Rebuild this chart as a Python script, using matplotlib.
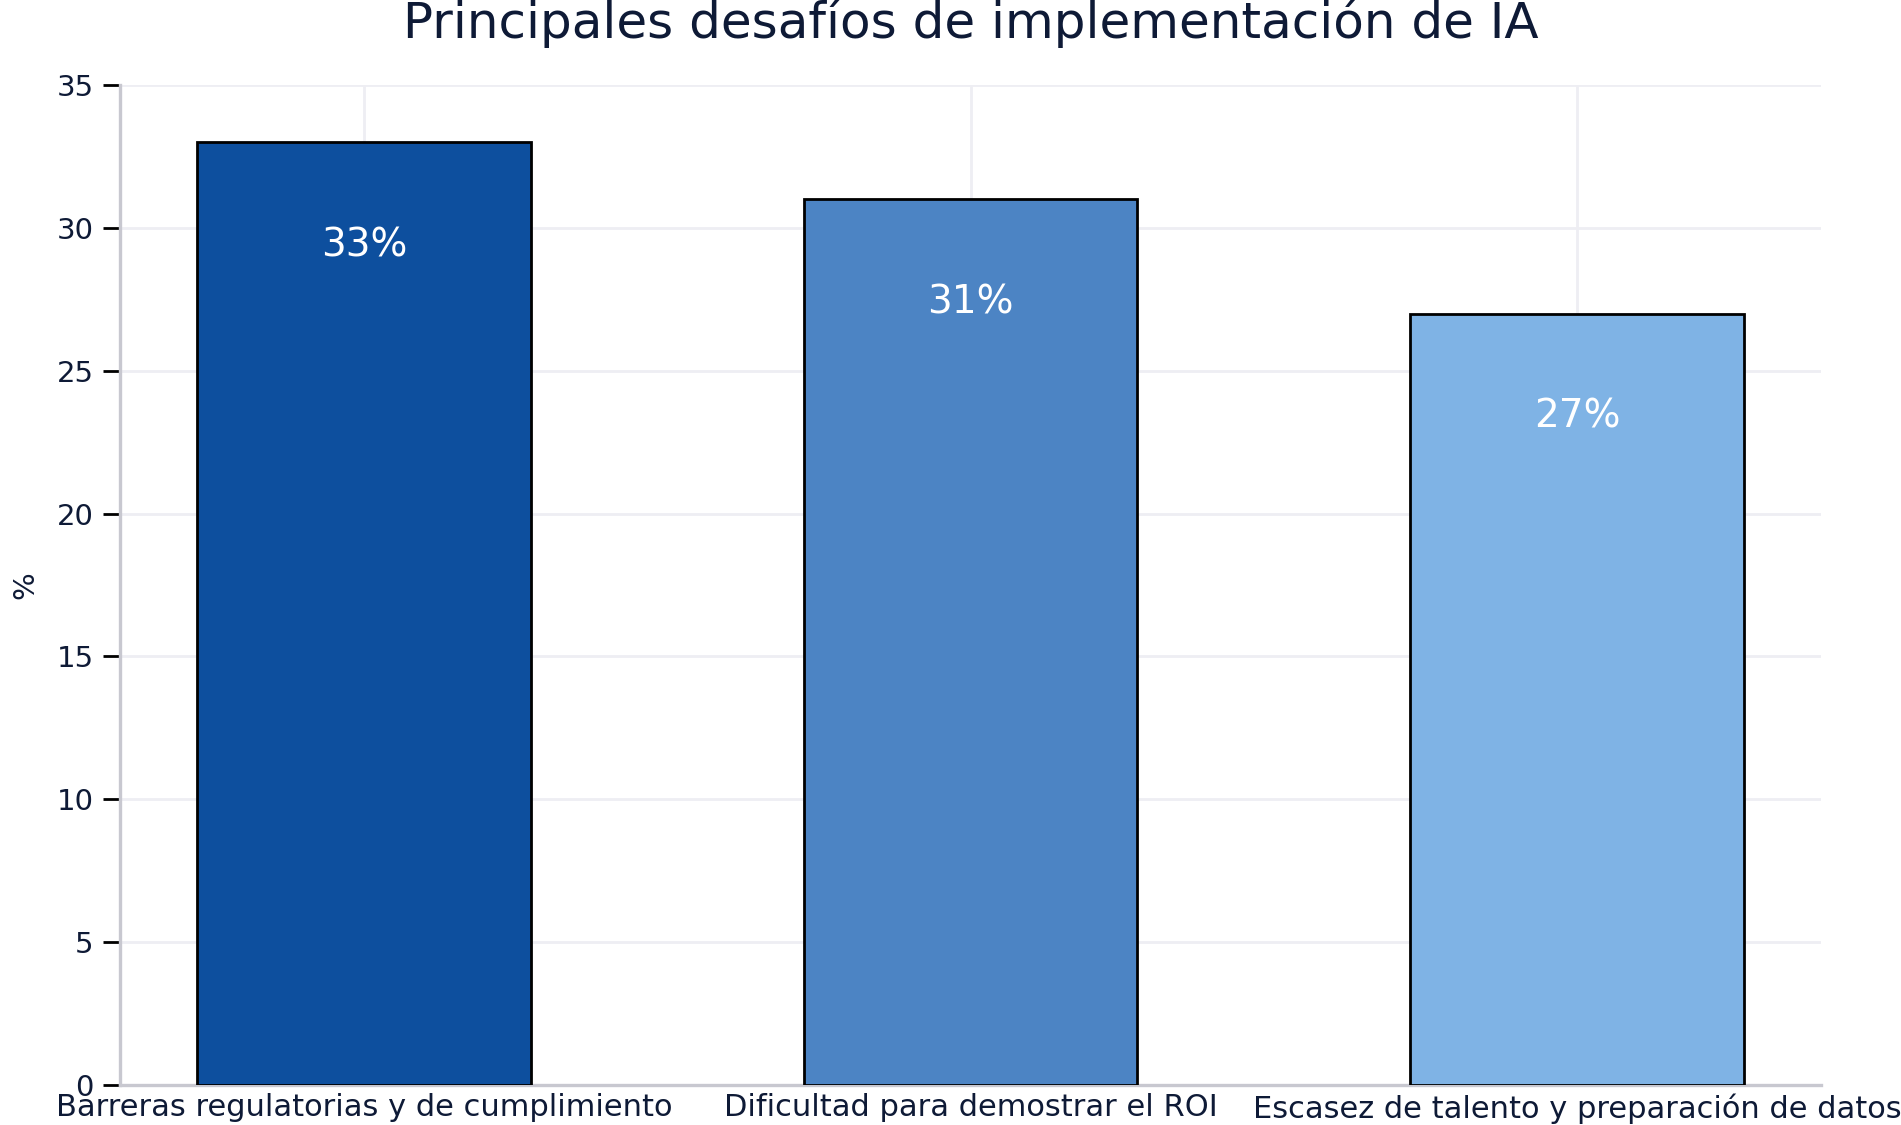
import matplotlib.pyplot as plt

# datos
categorias = ["Barreras regulatorias y de cumplimiento",
              "Dificultad para demostrar el ROI",
              "Escasez de talento y preparación de datos"]
valores = [33, 31, 27]
colores = ["#0d4f9e", "#4c84c4", "#7fb3e5"]

texto = "#0e1a36"

fig, ax = plt.subplots(figsize=(9.505, 5.625), dpi=200)
fig.subplots_adjust(left=0.0631, right=0.958, top=0.9244, bottom=0.0356)

x = range(len(categorias))
ax.bar(x, valores, width=0.55, color=colores, edgecolor="black", linewidth=1.0, zorder=3)

for i, v in enumerate(valores):
    ax.text(i, v - 3.6, f"{v}%", ha="center", va="center", color="white", fontsize=14, zorder=4)

ax.set_xticks(list(x))
ax.set_xticklabels(categorias, fontsize=11, color=texto)
ax.set_ylim(0, 35)
ax.set_yticks(range(0, 36, 5))
ax.tick_params(axis="y", labelsize=10.5, labelcolor=texto, color="black", length=6, width=1)
ax.tick_params(axis="x", length=0, pad=3)

ax.grid(True, color="#eeeef3", linewidth=1, zorder=0)
ax.set_axisbelow(True)
for s in ["top", "right"]:
    ax.spines[s].set_visible(False)
for s in ["left", "bottom"]:
    ax.spines[s].set_color("#c8c8d0")
    ax.spines[s].set_linewidth(1.2)

ax.set_ylabel("%", fontsize=10.5, color=texto, labelpad=6)
ax.set_title("Principales desafíos de implementación de IA", fontsize=18, color=texto, pad=17)

plt.savefig("out.png", dpi=200, facecolor="white")
